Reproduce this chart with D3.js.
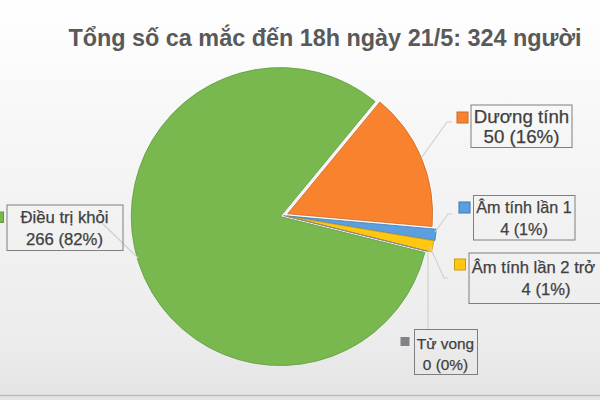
<!DOCTYPE html>
<html>
<head>
<meta charset="utf-8">
<script src="https://cdn.jsdelivr.net/npm/d3@7"></script>
<style>
html, body { margin: 0; padding: 0; overflow: hidden; }
text { font-family: "Liberation Sans", Arial, sans-serif; }
</style>
</head>
<body>
<script>
const title = 'Tổng số ca mắc đến 18h ngày 21/5: 324 người';
const categories = ['Dương tính', 'Âm tính lần 1', 'Âm tính lần 2 trở', 'Tử vong', 'Điều trị khỏi'];
const values = [50, 4, 4, 0, 266];
const valueLabels = ['50 (16%)', '4 (1%)', '4 (1%)', '0 (0%)', '266 (82%)'];
const colors = ['#f9822f', '#5b9fe0', '#ffc712', '#85808a', '#79b84e'];
const edgeColors = ['#c9692a', '#3f78ad', '#c99a10', '#85808a', '#5f9a3c'];

const width = 600, height = 400;
const cx = 283.5, cy = 215.5;

const svg = d3.select('body').append('svg')
  .attr('width', width).attr('height', height);

const defs = svg.append('defs');
const bg = defs.append('linearGradient').attr('id', 'bg')
  .attr('x1', 0).attr('y1', 0).attr('x2', 0).attr('y2', 1);
bg.append('stop').attr('offset', 0).attr('stop-color', '#ffffff');
bg.append('stop').attr('offset', 0.35).attr('stop-color', '#f6f6f6');
bg.append('stop').attr('offset', 0.85).attr('stop-color', '#ececec');
bg.append('stop').attr('offset', 1).attr('stop-color', '#e3e3e3');
svg.append('rect').attr('width', width).attr('height', height).attr('fill', 'url(#bg)');
svg.append('line')
  .attr('x1', 0).attr('x2', width).attr('y1', 395.5).attr('y2', 395.5)
  .attr('stroke', '#bbbbbb').attr('stroke-width', 1.5);

svg.append('text')
  .attr('x', 325).attr('y', 46)
  .attr('text-anchor', 'middle')
  .attr('font-size', 23.4).attr('font-weight', 700)
  .attr('fill', '#595959')
  .text(title);

const startDeg = 39.5;
const pie = d3.pie().sort(null)
  .startAngle(startDeg * Math.PI / 180)
  .endAngle((360 + startDeg) * Math.PI / 180);
// slices are not quite the same size in the picture
const radii = [145, 150, 149, 149, 149];
const explode = [4.5, 3.5, 3.5, 0, 3.4];

const arcs = pie(values);
const g = svg.append('g').attr('transform', `translate(${cx},${cy})`);

// white halo first, it makes the pale gap between the slices
g.append('g').selectAll('path').data(arcs).join('path')
  .attr('d', (d, i) => d3.arc().innerRadius(0).outerRadius(radii[i])(d))
  .attr('transform', (d, i) => {
    const a = (d.startAngle + d.endAngle) / 2;
    return `translate(${Math.sin(a) * explode[i]},${-Math.cos(a) * explode[i]})`;
  })
  .attr('fill', 'none')
  .attr('stroke', (d, i) => i === 4 ? 'none' : '#ffffff')
  .attr('stroke-width', 2.5);

g.append('g').selectAll('path').data(arcs).join('path')
  .attr('d', (d, i) => d3.arc().innerRadius(0).outerRadius(radii[i])(d))
  .attr('transform', (d, i) => {
    const a = (d.startAngle + d.endAngle) / 2;
    return `translate(${Math.sin(a) * explode[i]},${-Math.cos(a) * explode[i]})`;
  })
  .attr('fill', (d, i) => colors[i])
  .attr('stroke', (d, i) => edgeColors[i])
  .attr('stroke-width', 0.8);

// leader lines run from the slice to the label box
const leaders = [
  [[422, 157], [447, 122], [452, 122]],
  [[435, 232], [448, 214], [452, 214]],
  [[430, 247], [444, 278], [448, 278]],
  [[428, 251], [428, 329]],
  [[138, 258], [102, 223]]
];
svg.append('g').selectAll('path').data(leaders).join('path')
  .attr('d', d3.line())
  .attr('fill', 'none').attr('stroke', '#d0d0d0').attr('stroke-width', 1.2);

// label boxes: rect, swatch, text centre and baselines per line, font size
const boxes = [
  { x: 471, y: 105, w: 101, h: 42.5, sx: 457, sy: 112, ss: 11, t1: 521.5, t2: 521.5, b1: 123, b2: 143, fs: 18.7 },
  { x: 473.5, y: 195.5, w: 101.5, h: 44.5, sx: 459, sy: 202, ss: 11, t1: 524, t2: 524, b1: 213, b2: 234.5, fs: 16.2 },
  { x: 469, y: 253, w: 140, h: 50.5, sx: 454.5, sy: 259, ss: 11, t1: 533.5, t2: 546, b1: 273, b2: 295, fs: 16.6 },
  { x: 414.5, y: 329.5, w: 63, h: 45, sx: 401, sy: 337.5, ss: 8, t1: 445.5, t2: 445.5, b1: 348.5, b2: 370, fs: 15.4 },
  { x: 7, y: 205, w: 116, h: 45.5, sx: -7, sy: 212, ss: 10.5, t1: 64.5, t2: 64.5, b1: 223, b2: 245, fs: 16.7 }
];

const labels = svg.append('g').selectAll('g').data(boxes).join('g');
labels.append('rect')
  .attr('x', d => d.x).attr('y', d => d.y)
  .attr('width', d => d.w).attr('height', d => d.h)
  .attr('fill', 'none').attr('stroke', '#7f7f7f').attr('stroke-width', 1);
labels.append('rect')
  .attr('x', d => d.sx).attr('y', d => d.sy)
  .attr('width', d => d.ss).attr('height', d => d.ss)
  .attr('fill', (d, i) => colors[i])
  .attr('stroke', (d, i) => edgeColors[i]);
labels.append('text')
  .attr('x', d => d.t1).attr('y', d => d.b1)
  .attr('text-anchor', 'middle')
  .attr('font-size', d => d.fs).attr('fill', '#404040')
  .attr('stroke', '#404040').attr('stroke-width', 0.25)
  .text((d, i) => categories[i]);
labels.append('text')
  .attr('x', d => d.t2).attr('y', d => d.b2)
  .attr('text-anchor', 'middle')
  .attr('font-size', d => d.fs).attr('fill', '#404040')
  .attr('stroke', '#404040').attr('stroke-width', 0.25)
  .text((d, i) => valueLabels[i]);
</script>
</body>
</html>
